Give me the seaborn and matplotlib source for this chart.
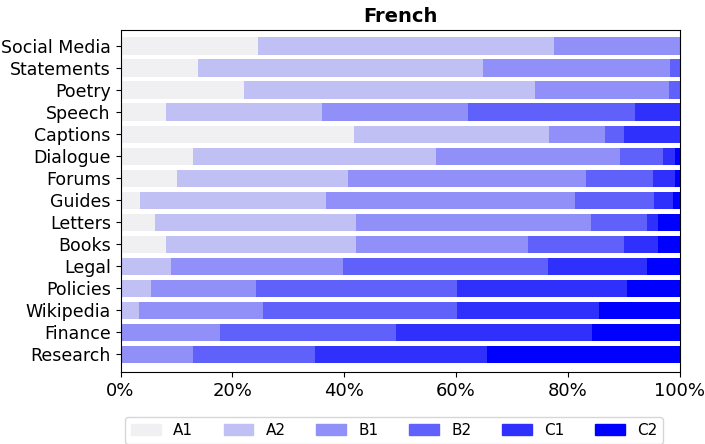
import pandas as pd
import numpy as np
import matplotlib
matplotlib.use("Agg")
import matplotlib.pyplot as plt
import matplotlib.patches as mpatches
import seaborn as sns

# Data (percent share of each CEFR level per domain)
domains = ["Social Media", "Statements", "Poetry", "Speech", "Captions", "Dialogue",
           "Forums", "Guides", "Letters", "Books", "Legal", "Policies",
           "Wikipedia", "Finance", "Research"]
levels = ["A1", "A2", "B1", "B2", "C1", "C2"]

a1 = [24.6, 13.8, 22.1, 8.2, 41.7, 13.0, 10.1, 3.5, 6.1, 8.2, 0.0, 0.0, 0.0, 0.0, 0.0]
a2 = [53.0, 51.0, 52.0, 27.9, 34.9, 43.5, 30.6, 33.2, 36.1, 34.0, 9.1, 5.4, 3.3, 0.0, 0.0]
b1 = [22.4, 33.4, 24.0, 26.0, 10.0, 32.8, 42.5, 44.5, 41.9, 30.6, 30.6, 18.9, 22.1, 17.8, 12.9]
b2 = [0.0, 1.8, 1.9, 30.0, 3.4, 7.8, 12.0, 14.3, 10.0, 17.3, 36.7, 35.8, 34.7, 31.4, 21.9]
c1 = [0.0, 0.0, 0.0, 7.9, 10.0, 2.0, 3.9, 3.3, 2.0, 6.0, 17.8, 30.5, 25.5, 35.2, 30.7]
c2 = [0.0, 0.0, 0.0, 0.0, 0.0, 0.9, 0.9, 1.2, 3.9, 3.9, 5.8, 9.4, 14.4, 15.6, 34.5]

df = pd.DataFrame({"Domain": domains, "A1": a1, "A2": a2, "B1": b1,
                   "B2": b2, "C1": c1, "C2": c2})

colors = sns.light_palette("blue", n_colors=len(levels))

# cumulative shares, drawn from the widest stack down
cum = df[levels].cumsum(axis=1)
cum = cum.div(cum["C2"], axis=0) * 100

fig, ax = plt.subplots(figsize=(7.05, 4.44), dpi=100)
for i in range(len(levels) - 1, -1, -1):
    sns.barplot(x=cum[levels[i]].values, y=df["Domain"], color=colors[i],
                orient="h", width=0.8, saturation=1, ax=ax)

ax.set_xlim(0, 100)
ax.set_ylim(14.8, -0.73)
ax.set_xticks([0, 20, 40, 60, 80, 100])
ax.set_xticklabels([f"{t}%" for t in [0, 20, 40, 60, 80, 100]], fontsize=13)
ax.tick_params(axis="y", labelsize=12.5)
ax.set_xlabel("")
ax.set_ylabel("")
ax.set_title("French", fontsize=14, fontweight="bold")

handles = [mpatches.Patch(color=colors[i], label=levels[i]) for i in range(len(levels))]
fig.legend(handles=handles, loc="upper center", bbox_to_anchor=(0.559, 0.061),
           bbox_transform=fig.transFigure, borderaxespad=0,
           ncol=6, fontsize=11, frameon=True, handlelength=1.96,
           handletextpad=0.8, columnspacing=2.0)

plt.subplots_adjust(left=0.171, right=0.964, top=0.932, bottom=0.162)
plt.savefig("out.png", dpi=100)
